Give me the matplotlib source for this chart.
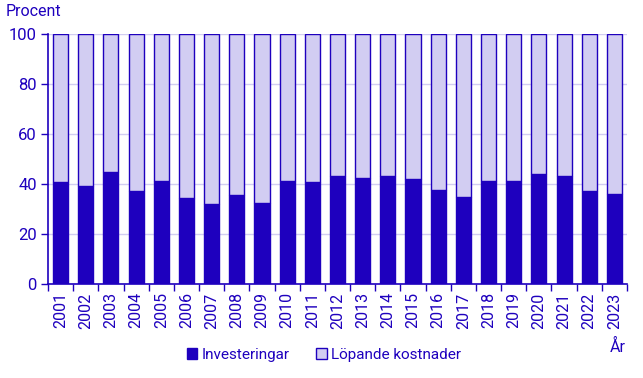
import matplotlib.pyplot as plt
import numpy as np

years = [str(y) for y in range(2001, 2024)]
investeringar = [40.8, 39.2, 44.8, 37.2, 41.2, 34.4, 32.0, 35.6, 32.4, 41.2, 40.8,
                 43.2, 42.4, 43.2, 42.0, 37.6, 34.8, 41.2, 41.2, 44.0, 43.2, 37.2, 36.0]
lopande = [100 - v for v in investeringar]

dark = "#1e00be"
light = "#d2cdf2"
grid = "#d2cdf2"

plt.rcParams["font.family"] = ["Roboto", "DejaVu Sans"]

fig = plt.figure(figsize=(6.43, 3.78), dpi=100)
ax = fig.add_axes([48 / 643, 1 - 284 / 378, 579 / 643, 250 / 378])

x = np.arange(len(years))
ax.bar(x, investeringar, width=0.6, color=dark, edgecolor=dark, linewidth=1,
       label="Investeringar", zorder=3)
ax.bar(x, lopande, bottom=investeringar, width=0.6, color=light, edgecolor=dark,
       linewidth=1, label="Löpande kostnader", zorder=3)

ax.set_xlim(-0.5, len(years) - 0.5)
ax.set_ylim(0, 100)
ax.set_yticks(range(0, 101, 20))
ax.yaxis.grid(True, color=grid, linewidth=1, zorder=0)

ax.set_xticks(x)
ax.set_xticklabels(years, rotation=90, fontsize=11.5, color=dark)
ax.tick_params(axis="x", length=0, pad=6)
ax.set_xticks(np.arange(-0.5, len(years)), minor=True)
ax.tick_params(axis="x", which="minor", length=5, color=dark, width=1)
ax.tick_params(axis="y", labelsize=12, labelcolor=dark, color=dark, length=5, width=1, pad=3)

for s in ["top", "right"]:
    ax.spines[s].set_visible(False)
for s in ["left", "bottom"]:
    ax.spines[s].set_color(dark)
    ax.spines[s].set_linewidth(1.2)

fig.text(6 / 643, 1 - 12 / 378, "Procent", fontsize=11.5, color=dark, va="center", ha="left")
fig.text(626 / 643, 1 - 347 / 378, "År", fontsize=11.5, color=dark, va="center", ha="right")

leg = fig.legend(loc="center", bbox_to_anchor=(324 / 643, 1 - 355 / 378), ncol=2, frameon=False,
                 fontsize=11, handlelength=0.7, handleheight=0.7, handletextpad=0.3,
                 columnspacing=1.7)
for t in leg.get_texts():
    t.set_color(dark)

fig.savefig("out.png", dpi=100)
